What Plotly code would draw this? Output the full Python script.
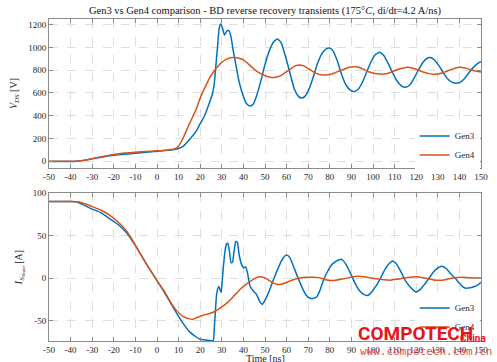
import plotly.graph_objects as go

# ---------------- data ----------------
vds_gen3_t = [-50, -45, -40, -37, -35, -30, -25, -20, -15, -10, -5, 0, 5, 8, 10, 12, 15, 18, 20, 22, 24,
              25.5, 26.5, 27.3, 28, 28.8, 29.5, 30.3, 31.2, 32.2, 33.2, 34.2, 35.2, 36.2, 38, 40, 41.5,
              43, 44.5, 46, 48, 50, 52, 54, 55.8, 57.5, 59.5, 61.5, 63.5, 65.5, 67, 68.5, 70.5, 72.5,
              74.5, 76.5, 78.5, 80, 81.5, 83.5, 85.5, 87.5, 89.5, 91.3, 93, 95, 97, 99, 101, 103, 105,
              107, 109, 111, 113, 115, 117, 119, 121, 123, 125, 126.5, 128.5, 130.5, 132.5, 134.5,
              136.5, 138.5, 140.5, 142.5, 144.5, 146.5, 148.5, 150]
vds_gen3_v = [-3, -2, -3, 0, 5, 22, 38, 52, 62, 70, 80, 88, 97, 103, 112, 130, 190, 260, 330, 400, 500,
              580, 680, 850, 1000, 1170, 1205, 1170, 1110, 1140, 1150, 1100, 980, 880, 700, 570, 505,
              485, 500, 570, 700, 850, 970, 1050, 1075, 1040, 920, 780, 640, 570, 555, 570, 640, 750,
              870, 950, 990, 995, 970, 880, 760, 670, 625, 612, 630, 690, 780, 870, 935, 958, 930,
              860, 780, 710, 665, 650, 670, 730, 800, 865, 905, 912, 890, 840, 780, 725,
              695, 685, 695, 730, 780, 825, 860, 875]

vds_gen4_t = [-50, -40, -36, -33, -30, -25, -20, -15, -10, -5, 0, 5, 8, 10, 12, 15, 18, 20, 22, 24, 26,
              28, 30, 32, 34, 36, 38, 40, 42, 44, 46, 48, 50, 52, 54, 56, 58, 60, 62, 64, 66, 68, 70,
              72, 74, 76, 78, 80, 82, 84, 86, 88, 90, 92, 94, 96, 98, 100, 102, 104, 106, 108, 110,
              112, 114, 116, 118, 120, 122, 124, 126, 128, 130, 132, 134, 136, 138, 140, 142, 144,
              146, 148, 150]
vds_gen4_v = [0, 0, 2, 10, 22, 42, 60, 72, 80, 86, 92, 100, 108, 135, 200, 330, 450, 555, 640, 720, 780,
              830, 870, 895, 910, 912, 905, 890, 860, 825, 795, 770, 752, 740, 735, 742, 762, 787, 815,
              838, 845, 838, 815, 790, 770, 760, 758, 762, 775, 790, 805, 820, 828, 830, 822, 805, 787,
              775, 768, 764, 768, 780, 795, 810, 820, 825, 820, 808, 793, 780, 770, 764, 766, 775,
              790, 805, 818, 825, 822, 812, 800, 790, 785]

is_gen3_t = [-50, -40, -37, -34, -30, -26, -22, -18, -14, -11, -8, -5, -2, 0, 3, 6, 9, 12, 15, 18, 20,
             23, 26, 26.5, 27, 27.6, 28.2, 28.7, 29.2, 29.7, 30.3, 30.8, 31.5, 32.2, 32.8, 33.5, 34.3,
             35, 35.7, 36.5, 37.2, 38, 39, 40, 41, 42, 43, 44.5, 46, 47.5, 48.8, 50, 51.5, 53, 55, 57,
             58.5, 60, 61.5, 63, 65, 67, 69, 70.5, 72, 74, 75.5, 77, 79, 81, 83, 85.5, 87.5, 89.5,
             91.5, 93.5, 95.5, 97.5, 99.5, 101.5, 103.5, 105.5, 107.5, 109, 111, 113, 115, 117, 119,
             120, 122, 124, 126, 128, 130, 132, 134, 136, 138, 140, 141.5, 143, 145, 147, 148.5, 150]
is_gen3_i = [90, 90, 89.5, 86, 81, 77, 70, 63, 53, 42, 30, 17, 5, -3, -15, -28, -41, -53, -63, -69, -72,
             -73, -73.5, -60, -40, -19, -12, -10, -14, -17, 0, 15, 32, 40, 41, 32, 18,
             19, 32, 43, 42, 28, 17, 12, 13, 5, -9, -15, -19, -27, -31, -26, -18, -8, 5, 17,
             24, 27, 24, 15, 2, -10, -20, -23.5, -24, -22, -14, -3, 8, 16, 20, 22, 16, 6,
             -5, -14, -19, -20.5, -16, -9, 0, 10, 17, 20, 16, 7, -3, -10, -15,
             -16.5, -13, -7, 0, 7, 12, 14, 11, 5, 0, -6, -10, -12, -11.5, -10, -8, -5]

is_gen4_t = [-50, -40, -36, -33, -30, -26, -22, -18, -14, -11, -8, -5, -2, 0, 3, 6, 9, 12, 15, 16.5, 18,
             21, 24, 27, 30, 33, 36, 39, 42, 45, 47.5, 50, 52, 54, 56, 58, 60, 63, 66, 69, 72, 75, 78,
             81, 84, 87, 90, 93, 96, 99, 102, 105, 108, 111, 114, 117, 120, 123, 126, 129, 132, 135,
             138, 141, 144, 147, 150]
is_gen4_i = [90, 90, 89.5, 87, 84, 80, 74, 66, 55, 43, 30, 17, 5, -3, -14, -27, -38, -45, -48, -48.5, -47,
             -44, -42, -39, -34, -28, -20, -12, -6, -1, 1.5, 0, -3, -6, -7.5, -7, -5, -2, 0, 1, 1, 0.5, -2,
             -3, -2, -0.5, 1, 2, 1.5, 0, -1, -2, -2.5, -1.5, 0, 1, 1.5, 0.5, -1, -2.5, -2.5, -1,
             0.5, 1, 0.5, 0, 0]

series_names = ["Gen3", "Gen4"]
x_ticks = list(range(-50, 151, 10))
x_tick_labels = [str(v) for v in x_ticks]
vds_ticks = [0, 200, 400, 600, 800, 1000, 1200]
vds_tick_labels = [str(v) for v in vds_ticks]
is_ticks = [-50, 0, 50, 100]
is_tick_labels = [str(v) for v in is_ticks]

# ---------------- style ----------------
BLUE = "#0072BD"
ORANGE = "#D95319"
SERIF = "Liberation Serif, Times New Roman, serif"
TXT = "#262626"
AXC = "#8c8c8c"
GRID = "#dedede"
WM_RED = "#e8141c"

fig = go.Figure()
line_kw = dict(shape="spline", smoothing=0.5, width=1.5)
fig.add_trace(go.Scatter(x=vds_gen3_t, y=vds_gen3_v, name=series_names[0], mode="lines",
                         line=dict(color=BLUE, **line_kw), xaxis="x", yaxis="y", legend="legend"))
fig.add_trace(go.Scatter(x=vds_gen4_t, y=vds_gen4_v, name=series_names[1], mode="lines",
                         line=dict(color=ORANGE, **line_kw), xaxis="x", yaxis="y", legend="legend"))
fig.add_trace(go.Scatter(x=is_gen3_t, y=is_gen3_i, name=series_names[0], mode="lines",
                         line=dict(color=BLUE, **line_kw), xaxis="x2", yaxis="y2", legend="legend2"))
fig.add_trace(go.Scatter(x=is_gen4_t, y=is_gen4_i, name=series_names[1], mode="lines",
                         line=dict(color=ORANGE, **line_kw), xaxis="x2", yaxis="y2", legend="legend2"))

axis_common = dict(showline=True, linecolor=AXC, linewidth=1, mirror="ticks", ticks="inside",
                   ticklen=4, tickcolor=AXC, showgrid=True, gridcolor=GRID, griddash="dash",
                   gridwidth=1, zeroline=False, automargin=False,
                   tickfont=dict(family=SERIF, size=9, color=TXT))

fig.update_layout(
    width=497, height=362, autosize=False,
    margin=dict(l=49, r=16, t=19, b=21, autoexpand=False),
    paper_bgcolor="white", plot_bgcolor="white",
    font=dict(family=SERIF, color=TXT),
    title=dict(text="Gen3 vs Gen4 comparison - BD reverse recovery transients (175°<i>C</i>, di/dt=4.2 A/ns)",
               x=265 / 497, xanchor="center", y=1 - 10 / 362, yanchor="middle", yref="container",
               automargin=False, font=dict(family=SERIF, size=10.5, color="#111111")),
    xaxis=dict(domain=[0, 1], anchor="y", range=[-50, 150], tickvals=x_ticks, ticktext=x_tick_labels,
               **axis_common),
    yaxis=dict(domain=[0.537, 1], anchor="x", range=[-60, 1250], tickvals=vds_ticks,
               ticktext=vds_tick_labels,
               title=dict(text="<i>V<sub>DS</sub></i> [V]", standoff=8,
                          font=dict(family=SERIF, size=10, color=TXT)),
               **axis_common),
    xaxis2=dict(domain=[0, 1], anchor="y2", range=[-50, 150], tickvals=x_ticks, ticktext=x_tick_labels,
                **axis_common),
    yaxis2=dict(domain=[0, 0.4596], anchor="x2", range=[-74, 100], tickvals=is_ticks,
                ticktext=is_tick_labels,
                title=dict(text="<i>I<sub>S<sub>Shunt</sub></sub></i> [A]", standoff=8,
                           font=dict(family=SERIF, size=10, color=TXT)),
                **axis_common),
    legend=dict(x=0.997, xanchor="right", y=0.542 - 3 / 322, yanchor="bottom",
                bgcolor="rgba(255,255,255,1)", borderwidth=0,
                font=dict(family=SERIF, size=9, color=TXT), itemwidth=30, tracegroupgap=0),
    legend2=dict(x=0.997, xanchor="right", y=0.005 - 2 / 322, yanchor="bottom",
                 bgcolor="rgba(255,255,255,1)", borderwidth=0,
                 font=dict(family=SERIF, size=9, color=TXT), itemwidth=30, tracegroupgap=0),
    showlegend=True,
)

fig.add_annotation(text="Time [ns]", xref="paper", yref="paper", x=0.5, y=-(358 - 341) / 322,
                   xanchor="center", yanchor="middle", showarrow=False,
                   font=dict(family=SERIF, size=10, color=TXT))

# watermark
fig.add_annotation(text="<b>COMPOTECH</b>", xref="paper", yref="paper", x=(356 - 49) / 432,
                   y=-(347 - 341) / 322, xanchor="left", yanchor="bottom", showarrow=False,
                   font=dict(family="Roboto, sans-serif", size=19, color=WM_RED))
fig.add_annotation(text="<b>China</b>", xref="paper", yref="paper", x=(458 - 49) / 432,
                   y=-(346 - 341) / 322, xanchor="left", yanchor="bottom", showarrow=False,
                   font=dict(family="Roboto, sans-serif", size=10, color=WM_RED))
fig.add_annotation(text="www.compotech.com.cn", xref="paper", yref="paper", x=(358 - 49) / 432,
                   y=-(351 - 341) / 322, xanchor="left", yanchor="middle", showarrow=False,
                   font=dict(family="DejaVu Sans Mono, monospace", size=11, color="#e84a50"))

fig.write_html("out.html", config={"displayModeBar": False},
               post_script="document.body.style.margin='0';document.body.style.overflow='hidden';")
